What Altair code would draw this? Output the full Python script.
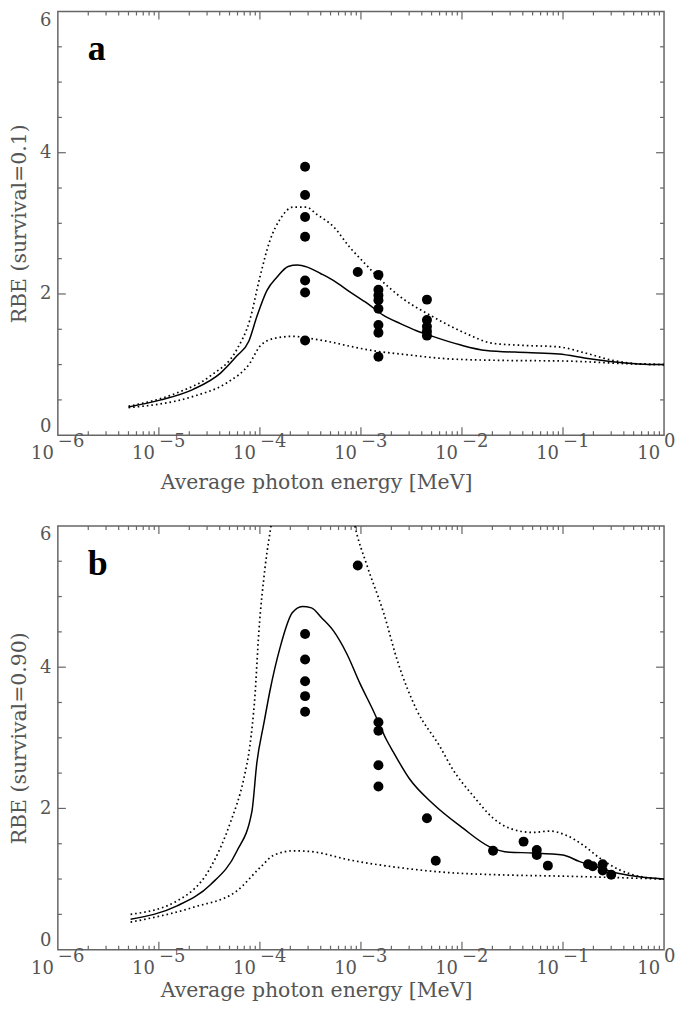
import altair as alt
import pandas as pd

# ---------------- data (energies given as log10 of MeV for the curves) ----------------
# Panel a  (survival = 0.1)
a_solid_logE = [-5.30, -4.98, -4.66, -4.39, -4.23, -4.11, -4.03, -3.93, -3.83, -3.72, -3.63, -3.53,
                -3.40, -3.27, -3.11, -2.94, -2.78, -2.61, -2.45, -2.29, -2.02, -1.76, -1.36, -1.04,
                -0.77, -0.51, -0.25, 0.0]
a_solid_rbe = [0.40, 0.50, 0.65, 0.88, 1.12, 1.33, 1.68, 2.05, 2.24, 2.39, 2.41, 2.38,
               2.29, 2.19, 2.03, 1.87, 1.70, 1.58, 1.48, 1.40, 1.28, 1.20, 1.17, 1.15,
               1.09, 1.04, 1.01, 1.00]
a_upper_logE = [-5.30, -4.82, -4.49, -4.23, -4.10, -4.00, -3.90, -3.80, -3.67, -3.54, -3.44, -3.27,
                -3.11, -2.96, -2.84, -2.61, -2.29, -1.96, -1.69, -1.36, -1.04, -0.77, -0.51, -0.25, 0.0]
a_upper_rbe = [0.41, 0.60, 0.84, 1.21, 1.63, 2.24, 2.76, 3.06, 3.23, 3.23, 3.13, 2.95,
               2.66, 2.43, 2.25, 1.96, 1.68, 1.44, 1.30, 1.27, 1.25, 1.16, 1.06, 1.01, 1.00]
a_lower_logE = [-5.30, -4.66, -4.33, -4.10, -4.00, -3.86, -3.67, -3.50, -3.30, -3.11, -2.85, -2.61,
                -2.12, -1.63, -0.97, -0.31, 0.0]
a_lower_rbe = [0.39, 0.55, 0.74, 1.02, 1.26, 1.37, 1.40, 1.37, 1.32, 1.26, 1.19, 1.15,
               1.08, 1.06, 1.05, 1.01, 1.00]
a_pts_E = [2.8e-4] * 7 + [9.3e-4] + [1.49e-3] * 8 + [4.5e-3] * 5
a_pts_rbe = [3.80, 3.40, 3.09, 2.81, 2.19, 2.02, 1.34,
             2.31,
             2.27, 2.06, 1.98, 1.91, 1.79, 1.56, 1.45, 1.11,
             1.92, 1.63, 1.54, 1.47, 1.41]

# Panel b  (survival = 0.90)
b_solid_logE = [-5.28, -4.82, -4.49, -4.23, -4.08, -4.03, -3.96, -3.90, -3.80, -3.68, -3.58, -3.49,
                -3.39, -3.27, -3.14, -3.01, -2.88, -2.75, -2.68, -2.52, -2.29, -1.99, -1.73, -1.53,
                -1.30, -1.00, -0.84, -0.64, -0.48, -0.28, 0.0]
b_solid_rbe = [0.43, 0.62, 0.92, 1.39, 1.95, 2.65, 3.21, 3.67, 4.28, 4.77, 4.86, 4.84,
               4.70, 4.51, 4.19, 3.77, 3.39, 2.98, 2.80, 2.42, 2.07, 1.72, 1.46, 1.38,
               1.37, 1.34, 1.25, 1.16, 1.09, 1.04, 1.00]
b_upper_logE = [-5.28, -4.82, -4.49, -4.29, -4.16, -4.10, -4.05, -4.01, -3.95, -3.88, -3.75, -3.55,
                -3.35, -3.15, -3.06, -2.94, -2.78, -2.63, -2.45, -2.22, -2.09, -1.89, -1.69, -1.53,
                -1.30, -1.13, -0.97, -0.80, -0.64, -0.44, -0.25, 0.0]
b_upper_rbe = [0.50, 0.69, 1.16, 1.81, 2.42, 2.88, 3.58, 4.51, 5.40, 6.10, 7.50, 8.20,
               7.80, 6.70, 6.00, 5.44, 4.79, 4.05, 3.40, 2.88, 2.55, 2.18, 1.86, 1.72,
               1.66, 1.68, 1.62, 1.48, 1.30, 1.13, 1.04, 1.00]
b_lower_logE = [-5.28, -4.66, -4.23, -4.00, -3.86, -3.67, -3.50, -3.11, -2.61, -2.12, -1.63, -0.97, 0.0]
b_lower_rbe = [0.39, 0.60, 0.83, 1.16, 1.34, 1.40, 1.39, 1.27, 1.16, 1.09, 1.06, 1.04, 1.00]
b_pts_E = [2.8e-4] * 5 + [9.3e-4] + [1.49e-3] * 4 + [4.5e-3, 5.5e-3, 0.0203, 0.0407, 0.055, 0.055,
                                                   0.0708, 0.177, 0.197, 0.247, 0.247, 0.30]
b_pts_rbe = [4.47, 4.11, 3.80, 3.59, 3.37,
             5.44,
             3.22, 3.10, 2.61, 2.31,
             1.86, 1.26, 1.40, 1.53, 1.41, 1.34, 1.19, 1.21, 1.18, 1.21, 1.12, 1.06]

# axis tick values and labels
x_decades = [1e-6, 1e-5, 1e-4, 1e-3, 1e-2, 1e-1, 1.0]
x_exponents = ["\u22126", "\u22125", "\u22124", "\u22123", "\u22122", "\u22121", "0"]
x_minor = [m * d for d in x_decades[:-1] for m in range(2, 10)]
y_major = [0, 2, 4, 6]
y_minor = [0.5, 1, 1.5, 2.5, 3, 3.5, 4.5, 5, 5.5]

FONT = "DejaVu Serif"
TXT = "#555555"
FRAME = "#666666"
W = 608


def panel(H, pts_E, pts_R, curves, letter, ytitle, xtitle_pad):
    xs = alt.Scale(type="log", domain=[1e-6, 1])
    ys = alt.Scale(domain=[0, 6], nice=False, zero=False)
    xax = alt.Axis(title="Average photon energy [MeV]", labels=False, ticks=False, tickSize=0,
                   domain=False, grid=False, titleFont=FONT, titleFontSize=20.5,
                   titleFontWeight="normal", titleColor=TXT, titlePadding=xtitle_pad,
                   titleX=259, titleAlign="center")
    yax = alt.Axis(title=ytitle, values=y_major, labelFlush=True, ticks=False, tickSize=0,
                   domain=False, grid=False, labelFont=FONT, labelFontSize=18, labelColor=TXT,
                   labelPadding=7, titleFont=FONT, titleFontSize=20.5, titleFontWeight="normal",
                   titleColor=TXT, titlePadding=10)

    def X(f):
        return alt.X(f, scale=xs, axis=xax)

    def Y(f):
        return alt.Y(f, scale=ys, axis=yax)

    layers = []

    # measured points
    dfp = pd.DataFrame({"E": pts_E, "R": pts_R})
    layers.append(alt.Chart(dfp).mark_circle(size=100, color="black", opacity=1).encode(
        x=X("E:Q"), y=Y("R:Q")))

    # tick marks on all four sides (inward)
    def xticks(vals, L):
        df = pd.DataFrame({"v": vals})
        base = alt.Chart(df).mark_rule(color=FRAME, strokeWidth=1.2)
        return [
            base.encode(x=X("v:Q"), y=alt.value(H), y2=alt.value(H - L)),
            base.encode(x=X("v:Q"), y=alt.value(0), y2=alt.value(L)),
        ]

    def yticks(vals, L):
        df = pd.DataFrame({"v": vals})
        base = alt.Chart(df).mark_rule(color=FRAME, strokeWidth=1.2)
        return [
            base.encode(y=Y("v:Q"), x=alt.value(0), x2=alt.value(L)),
            base.encode(y=Y("v:Q"), x=alt.value(W), x2=alt.value(W - L)),
        ]

    layers += xticks(x_decades[1:-1], 8) + xticks(x_minor, 4)
    layers += yticks(y_major[1:-1], 8) + yticks(y_minor, 4)

    # curves
    for logE, rbe, dotted in curves:
        df = pd.DataFrame({"E": [10 ** v for v in logE], "R": rbe})
        if dotted:
            mk = alt.Chart(df).mark_line(color="black", strokeWidth=1.7, strokeDash=[1.6, 3.0],
                                         clip=True, interpolate="monotone")
        else:
            mk = alt.Chart(df).mark_line(color="black", strokeWidth=1.5, clip=True,
                                         interpolate="monotone")
        layers.append(mk.encode(x=X("E:Q"), y=Y("R:Q")))

    # x tick labels: 10 with large exponent
    dlab = pd.DataFrame({"v": x_decades, "e": x_exponents})
    layers.append(alt.Chart(dlab).mark_text(font=FONT, fontSize=18, color=TXT, align="right",
                                            baseline="alphabetic", dx=-4).encode(
        x=X("v:Q"), y=alt.value(H + 24), text=alt.value("10")))
    layers.append(alt.Chart(dlab).mark_text(font=FONT, fontSize=18, color=TXT, align="left",
                                            baseline="alphabetic", dx=0).encode(
        x=X("v:Q"), y=alt.value(H + 12), text="e:N"))

    # panel letter
    layers.append(alt.Chart(pd.DataFrame({"t": [letter]})).mark_text(
        font="Liberation Serif", fontWeight="bold", fontSize=36, color="black",
        align="left", baseline="alphabetic").encode(
        x=alt.value(30), y=alt.value(49), text="t:N"))

    return alt.layer(*layers).properties(width=W, height=H)


panel_a = panel(425, a_pts_E, a_pts_rbe,
                [(a_solid_logE, a_solid_rbe, False), (a_upper_logE, a_upper_rbe, True),
                 (a_lower_logE, a_lower_rbe, True)], "a", "RBE (survival=0.1)", 37)
panel_b = panel(425, b_pts_E, b_pts_rbe,
                [(b_solid_logE, b_solid_rbe, False), (b_upper_logE, b_upper_rbe, True),
                 (b_lower_logE, b_lower_rbe, True)], "b", "RBE (survival=0.90)", 31)

chart = alt.vconcat(panel_a, panel_b, spacing=91, bounds="flush").properties(
    padding={"left": 0, "top": 0, "right": 0, "bottom": 0}
).configure_view(stroke=FRAME, strokeWidth=1.5)

chart.save("out.html", embed_options={"renderer": "svg", "actions": False})
